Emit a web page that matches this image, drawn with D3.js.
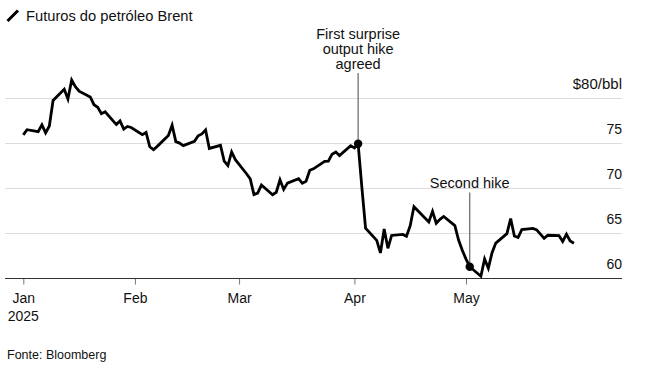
<!DOCTYPE html>
<html>
<head>
<meta charset="utf-8">
<script src="https://cdn.jsdelivr.net/npm/d3@7"></script>
<style>
  html, body { margin: 0; padding: 0; background: #fff; }
  svg { display: block; font-family: "Liberation Sans", Arial, sans-serif; }
</style>
</head>
<body>
<svg id="chart" width="648" height="372"></svg>
<script>
const dates = [
  "2025-01-02","2025-01-03","2025-01-06","2025-01-07","2025-01-08","2025-01-09","2025-01-10",
  "2025-01-13","2025-01-14","2025-01-15","2025-01-16","2025-01-17",
  "2025-01-20","2025-01-21","2025-01-22","2025-01-23","2025-01-24",
  "2025-01-27","2025-01-28","2025-01-29","2025-01-30","2025-01-31",
  "2025-02-03","2025-02-04","2025-02-05","2025-02-06","2025-02-07",
  "2025-02-10","2025-02-11","2025-02-12","2025-02-13","2025-02-14",
  "2025-02-17","2025-02-18","2025-02-19","2025-02-20","2025-02-21",
  "2025-02-24","2025-02-25","2025-02-26","2025-02-27","2025-02-28",
  "2025-03-03","2025-03-04","2025-03-05","2025-03-06","2025-03-07",
  "2025-03-10","2025-03-11","2025-03-12","2025-03-13","2025-03-14",
  "2025-03-17","2025-03-18","2025-03-19","2025-03-20","2025-03-21",
  "2025-03-24","2025-03-25","2025-03-26","2025-03-27","2025-03-28",
  "2025-03-31","2025-04-01","2025-04-02","2025-04-03","2025-04-04",
  "2025-04-07","2025-04-08","2025-04-09","2025-04-10","2025-04-11",
  "2025-04-14","2025-04-15","2025-04-16","2025-04-17",
  "2025-04-21","2025-04-22","2025-04-23","2025-04-24","2025-04-25",
  "2025-04-28","2025-04-29","2025-04-30","2025-05-01","2025-05-02",
  "2025-05-05","2025-05-06","2025-05-07","2025-05-08","2025-05-09",
  "2025-05-12","2025-05-13","2025-05-14","2025-05-15","2025-05-16",
  "2025-05-19","2025-05-20","2025-05-21","2025-05-22","2025-05-23",
  "2025-05-26","2025-05-27","2025-05-28","2025-05-29","2025-05-30"
];
const prices = [
  75.93, 76.51, 76.30, 77.05, 76.16, 76.92, 79.76,
  81.01, 79.92, 82.03, 81.29, 80.79,
  80.15, 79.29, 79.00, 78.29, 78.50,
  77.08, 77.49, 76.58, 76.87, 76.76,
  75.96, 76.20, 74.61, 74.29, 74.66,
  75.87, 77.00, 75.18, 75.02, 74.74,
  75.22, 75.84, 76.04, 76.48, 74.43,
  74.78, 73.02, 72.53, 74.04, 73.18,
  71.62, 71.04, 69.30, 69.46, 70.36,
  69.28, 69.56, 70.95, 69.88, 70.58,
  71.07, 70.56, 70.78, 72.00, 72.16,
  73.00, 73.02, 73.79, 74.03, 73.63,
  74.74, 74.49, 74.95, 70.14, 65.58,
  64.21, 62.82, 65.48, 63.33, 64.76,
  64.88, 64.67, 65.85, 67.96,
  66.26, 67.44, 66.12, 66.55, 66.87,
  65.86, 64.25, 63.12, 62.13, 61.29,
  60.23, 62.15, 61.12, 62.84, 63.91,
  64.96, 66.63, 64.70, 64.53, 65.41,
  65.54, 65.38, 64.91, 64.44, 64.78,
  64.74, 64.09, 64.90, 64.15, 63.90
];
const yTicks = [60, 65, 70, 75, 80];
const yTickLabels = ["60", "65", "70", "75", "$80/bbl"];
const xTickDates = ["2025-01-02", "2025-02-01", "2025-03-01", "2025-04-01", "2025-05-01"];
const xTickLabels = ["Jan", "Feb", "Mar", "Apr", "May"];
const annotationDates = ["2025-04-02", "2025-05-02"];
const annotationTexts = [["First surprise", "output hike", "agreed"], ["Second hike"]];
const titleText = "Futuros do petróleo Brent";
const sourceText = "Fonte: Bloomberg";

const parse = d3.utcParse("%Y-%m-%d");
const data = dates.map((d, i) => ({ date: parse(d), value: prices[i] }));

const svg = d3.select("#chart");

const x = d3.scaleUtc()
  .domain([parse("2025-01-02"), parse("2025-05-30")])
  .range([23.3, 573.9]);
const y = d3.scaleLinear().domain([60, 80]).range([278.3, 98.3]);

const gridLeft = 5, gridRight = 622;

// gridlines
svg.append("g").selectAll("line")
  .data(yTicks.filter(v => v > 60))
  .join("line")
  .attr("x1", gridLeft).attr("x2", gridRight)
  .attr("y1", d => Math.round(y(d)) + 0.5).attr("y2", d => Math.round(y(d)) + 0.5)
  .attr("stroke", "#dcdcdc").attr("stroke-width", 1);

// y labels
svg.append("g").selectAll("text")
  .data(yTicks)
  .join("text")
  .attr("x", gridRight)
  .attr("y", d => y(d) - 9)
  .attr("text-anchor", "end")
  .attr("font-size", d => d === 80 ? 15 : 14)
  .attr("fill", "#111")
  .text((d, i) => yTickLabels[i]);

// x axis
const xAxis = d3.axisBottom(x)
  .tickValues(xTickDates.map(parse))
  .tickFormat((d, i) => xTickLabels[i])
  .tickSize(6)
  .tickPadding(9);
const gx = svg.append("g")
  .attr("transform", `translate(0,${Math.round(y(60)) + 0.5})`)
  .call(xAxis);
gx.select(".domain").remove();
gx.selectAll(".tick line").attr("stroke", "#777");
gx.selectAll(".tick text")
  .attr("font-size", 14)
  .attr("font-family", "'Liberation Sans', Arial, sans-serif")
  .attr("fill", "#111");
gx.append("text")
  .attr("x", x(parse(xTickDates[0])))
  .attr("y", 42)
  .attr("text-anchor", "middle")
  .attr("font-size", 14)
  .attr("fill", "#111")
  .text("2025");

// axis baseline
svg.append("line")
  .attr("x1", gridLeft).attr("x2", gridRight)
  .attr("y1", Math.round(y(60)) + 0.5).attr("y2", Math.round(y(60)) + 0.5)
  .attr("stroke", "#333").attr("stroke-width", 1.2);

// annotation lines
const annTop = [73, 192.5];
annotationDates.forEach((d, i) => {
  const pt = data.find(p => +p.date === +parse(d));
  svg.append("line")
    .attr("x1", x(pt.date)).attr("x2", x(pt.date))
    .attr("y1", annTop[i]).attr("y2", y(pt.value))
    .attr("stroke", "#666").attr("stroke-width", 1.2);
});

// price line
svg.append("path")
  .datum(data)
  .attr("fill", "none")
  .attr("stroke", "#000")
  .attr("stroke-width", 2.8)
  .attr("stroke-linejoin", "miter")
  .attr("d", d3.line().x(d => x(d.date)).y(d => y(d.value)));

// annotation markers + text
const annBaseline = [39.3, 188.3];
annotationDates.forEach((d, i) => {
  const pt = data.find(p => +p.date === +parse(d));
  svg.append("circle")
    .attr("cx", x(pt.date)).attr("cy", y(pt.value))
    .attr("r", 4.2).attr("fill", "#000");
  const t = svg.append("text")
    .attr("text-anchor", "middle")
    .attr("font-size", 14.5)
    .attr("fill", "#111");
  annotationTexts[i].forEach((line, j) => {
    t.append("tspan")
      .attr("x", x(pt.date))
      .attr("y", annBaseline[i] + j * 15)
      .text(line);
  });
});

// title
svg.append("line")
  .attr("x1", 7.5).attr("y1", 21).attr("x2", 18).attr("y2", 10.5)
  .attr("stroke", "#000").attr("stroke-width", 3);
svg.append("text")
  .attr("x", 26).attr("y", 21)
  .attr("font-size", 14.7)
  .attr("fill", "#111")
  .text(titleText);

// source
svg.append("text")
  .attr("x", 7).attr("y", 358.5)
  .attr("font-size", 12.5)
  .attr("fill", "#111")
  .text(sourceText);
</script>
</body>
</html>
